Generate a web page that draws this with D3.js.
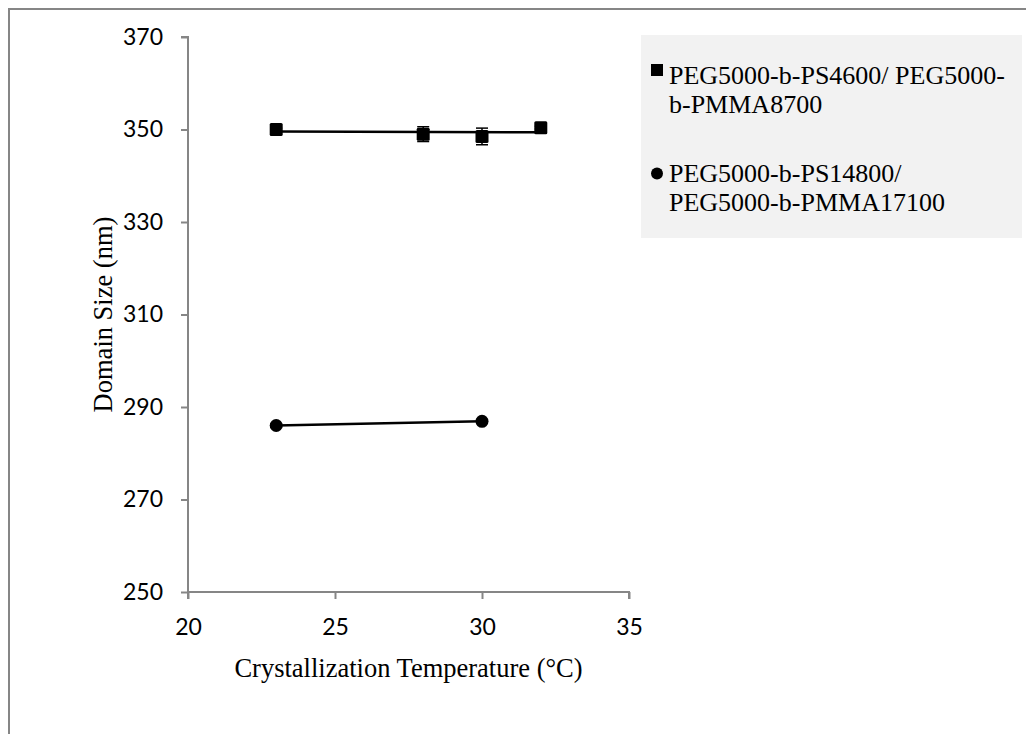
<!DOCTYPE html>
<html><head><meta charset="utf-8">
<script src="https://cdn.jsdelivr.net/npm/d3@7"></script>
<style>body{margin:0;background:#fff;}svg{display:block;}</style>
</head><body>
<svg id="c" width="1026" height="734"></svg>
<script>
// Data
const xTicks = [20, 25, 30, 35];
const yTicks = [250, 270, 290, 310, 330, 350, 370];
const s1Name = ["PEG5000-b-PS4600/ PEG5000-", "b-PMMA8700"];
const s1X = [23, 28, 30, 32];
const s1Y = [350.0, 349.0, 348.5, 350.4];
const s1Err = [0.3, 1.6, 1.8, 0.3];
const s2Name = ["PEG5000-b-PS14800/", "PEG5000-b-PMMA17100"];
const s2X = [23, 30];
const s2Y = [286.0, 286.9];
const s2Err = [0.4, 0.4];

const svg = d3.select("#c");
const x = d3.scaleLinear().domain([20, 35]).range([188, 629]);
const y = d3.scaleLinear().domain([250, 370]).range([592, 37]);
const axisColor = "#868686";
const serif = "'Liberation Serif','Times New Roman',serif";
const sans = "Lato, 'Open Sans', sans-serif";

// outer border
svg.append("rect").attr("x", 9).attr("y", 9).attr("width", 1200).attr("height", 1000)
  .attr("fill", "none").attr("stroke", axisColor).attr("stroke-width", 2);

// axes
const yAxis = svg.append("g").attr("transform", `translate(${x(20)},0)`)
  .call(d3.axisLeft(y).tickValues(yTicks).tickSize(7).tickPadding(18));
const xAxis = svg.append("g").attr("transform", `translate(0,${y(250)})`)
  .call(d3.axisBottom(x).tickValues(xTicks).tickSize(7).tickPadding(20));
[yAxis, xAxis].forEach(g => {
  g.select(".domain").attr("stroke", axisColor).attr("stroke-width", 2);
  g.selectAll(".tick line").attr("stroke", axisColor).attr("stroke-width", 2);
  g.selectAll(".tick text").attr("font-family", sans).attr("font-size", 23).attr("fill", "#000");
});
yAxis.select(".domain").attr("d", `M-7,${y(370)}H0V${y(250)}`);
xAxis.select(".domain").attr("d", `M${x(20)},7V0H${x(35)}V7`);

// axis titles
svg.append("text").attr("x", (x(20) + x(35)) / 2).attr("y", 677).attr("text-anchor", "middle")
  .attr("font-family", serif).attr("font-size", 26.5).text("Crystallization Temperature (°C)");
svg.append("text").attr("transform", `translate(112,${(y(250) + y(370)) / 2}) rotate(-90)`)
  .attr("text-anchor", "middle").attr("font-family", serif).attr("font-size", 26.5).text("Domain Size (nm)");

// trendlines (linear fit)
function fit(xs, ys) {
  const mx = d3.mean(xs), my = d3.mean(ys);
  const b = d3.sum(xs.map((v, i) => (v - mx) * (ys[i] - my))) / d3.sum(xs.map(v => (v - mx) ** 2));
  return v => my + b * (v - mx);
}
[[s1X, s1Y], [s2X, s2Y]].forEach(([xs, ys]) => {
  const f = fit(xs, ys);
  const x0 = d3.min(xs), x1 = d3.max(xs);
  svg.append("line").attr("x1", x(x0)).attr("x2", x(x1)).attr("y1", y(f(x0))).attr("y2", y(f(x1)))
    .attr("stroke", "#000").attr("stroke-width", 2.5);
});

// error bars
function errBars(xs, ys, es) {
  xs.forEach((v, i) => {
    const g = svg.append("g").attr("stroke", "#000").attr("stroke-width", 1.5);
    g.append("line").attr("x1", x(v)).attr("x2", x(v)).attr("y1", y(ys[i] - es[i])).attr("y2", y(ys[i] + es[i]));
    [ys[i] - es[i], ys[i] + es[i]].forEach(e => g.append("line").attr("x1", x(v) - 6).attr("x2", x(v) + 6).attr("y1", y(e)).attr("y2", y(e)));
  });
}
errBars(s1X, s1Y, s1Err);
errBars(s2X, s2Y, s2Err);

// markers
svg.selectAll(".sq").data(s1X.map((v, i) => [v, s1Y[i]])).join("rect")
  .attr("x", d => x(d[0]) - 6.5).attr("y", d => y(d[1]) - 6.5).attr("width", 13).attr("height", 13)
  .attr("rx", 1.5).attr("fill", "#000");
svg.selectAll(".ci").data(s2X.map((v, i) => [v, s2Y[i]])).join("circle")
  .attr("cx", d => x(d[0])).attr("cy", d => y(d[1])).attr("r", 6.5).attr("fill", "#000");

// legend
const lg = svg.append("g");
lg.append("rect").attr("x", 641).attr("y", 35).attr("width", 381).attr("height", 203).attr("fill", "#f2f2f2");
lg.append("rect").attr("x", 651).attr("y", 64).attr("width", 12).attr("height", 12).attr("fill", "#000");
lg.append("circle").attr("cx", 657).attr("cy", 173.5).attr("r", 6).attr("fill", "#000");
const lt1 = lg.append("text").attr("font-family", serif).attr("font-size", 26).attr("fill", "#000");
s1Name.forEach((t, i) => lt1.append("tspan").attr("x", 669).attr("y", 84 + i * 29).text(t));
const lt2 = lg.append("text").attr("font-family", serif).attr("font-size", 26).attr("fill", "#000");
s2Name.forEach((t, i) => lt2.append("tspan").attr("x", 669).attr("y", 182 + i * 29).text(t));
</script>
</body></html>
